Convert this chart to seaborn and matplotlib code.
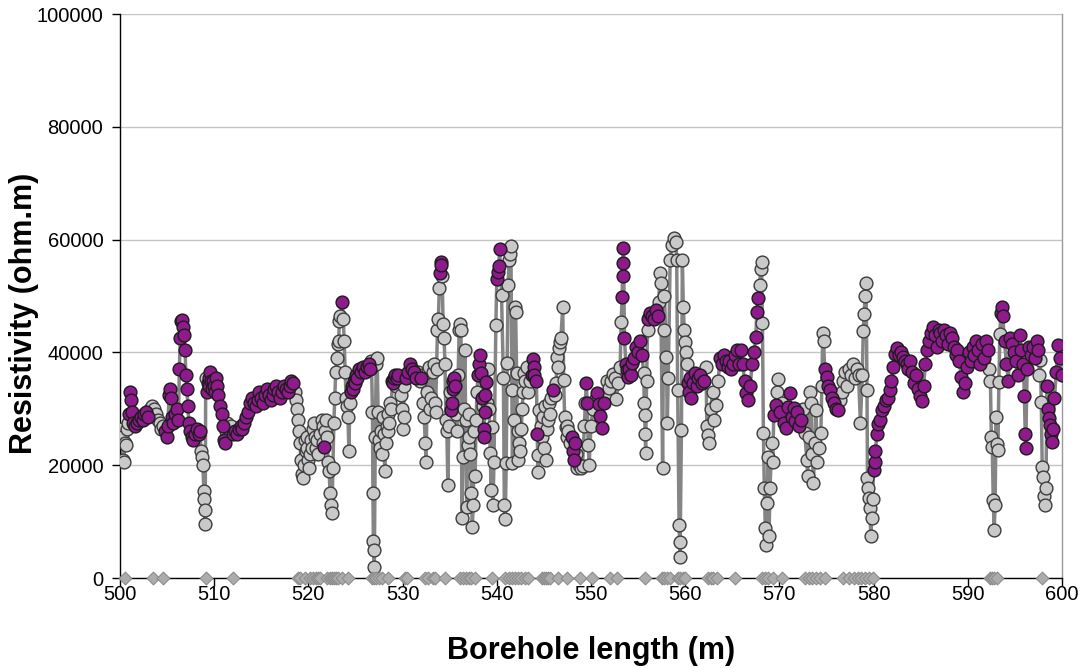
import matplotlib
matplotlib.use("Agg")
import matplotlib.pyplot as plt
import pandas as pd
import seaborn as sns

# Borehole length of each resistivity reading (m)
length_m = [
    500.1, 500.2, 500.3, 500.4, 500.5, 500.6, 500.7, 500.9, 501.0, 501.1,
    501.2, 501.3, 501.4, 501.6, 501.8, 502.0, 502.2, 502.4, 502.6, 502.8,
    503.0, 503.2, 503.4, 503.6, 503.8, 504.0, 504.2, 504.4, 504.6, 504.8,
    505.0, 505.1, 505.2, 505.3, 505.4, 505.5, 505.6, 505.8, 506.0, 506.2,
    506.3, 506.4, 506.5, 506.6, 506.7, 506.8, 506.9, 507.0, 507.1, 507.2,
    507.3, 507.4, 507.6, 507.8, 508.0, 508.2, 508.4, 508.5, 508.6, 508.7,
    508.8, 508.9, 508.95, 509.0, 509.05, 509.1, 509.2, 509.3, 509.4, 509.5,
    509.6, 509.7, 509.8, 509.9, 510.0, 510.1, 510.2, 510.3, 510.4, 510.6,
    510.8, 510.9, 511.0, 511.1, 511.2, 511.4, 511.6, 511.8, 512.0, 512.2,
    512.4, 512.6, 512.8, 513.0, 513.2, 513.4, 513.6, 513.8, 514.0, 514.2,
    514.4, 514.6, 514.8, 515.0, 515.2, 515.4, 515.6, 515.8, 516.0, 516.2,
    516.4, 516.6, 516.8, 517.0, 517.2, 517.4, 517.6, 517.8, 518.0, 518.2,
    518.4, 518.6, 518.7, 518.8, 518.9, 519.0, 519.1, 519.2, 519.3, 519.4,
    519.5, 519.6, 519.7, 519.8, 519.9, 520.0, 520.1, 520.2, 520.3, 520.4,
    520.5, 520.6, 520.7, 520.8, 520.9, 521.0, 521.2, 521.4, 521.5, 521.6,
    521.7, 521.8, 521.9, 522.0, 522.1, 522.2, 522.3, 522.4, 522.5, 522.6,
    522.7, 522.8, 522.9, 523.0, 523.1, 523.2, 523.3, 523.4, 523.6, 523.7,
    523.8, 523.9, 524.0, 524.1, 524.2, 524.3, 524.4, 524.5, 524.6, 524.7,
    524.8, 524.9, 525.0, 525.2, 525.4, 525.6, 525.8, 526.0, 526.2, 526.4,
    526.5, 526.6, 526.7, 526.8, 526.85, 526.9, 526.95, 527.0, 527.1, 527.2,
    527.3, 527.4, 527.5, 527.6, 527.7, 527.8, 527.9, 528.0, 528.1, 528.2,
    528.3, 528.4, 528.5, 528.6, 528.7, 528.8, 528.9, 529.0, 529.1, 529.2,
    529.3, 529.4, 529.5, 529.6, 529.8, 529.9, 530.0, 530.1, 530.2, 530.4,
    530.6, 530.8, 531.0, 531.2, 531.4, 531.6, 531.8, 532.0, 532.1, 532.2,
    532.3, 532.4, 532.5, 532.6, 532.7, 532.8, 532.9, 533.0, 533.2, 533.3,
    533.4, 533.5, 533.6, 533.7, 533.8, 533.9, 534.0, 534.05, 534.1, 534.2,
    534.3, 534.4, 534.5, 534.6, 534.7, 534.8, 534.9, 535.0, 535.1, 535.2,
    535.3, 535.4, 535.5, 535.6, 535.7, 535.8, 535.9, 536.0, 536.1, 536.2,
    536.3, 536.4, 536.5, 536.6, 536.7, 536.8, 536.9, 537.0, 537.1, 537.2,
    537.3, 537.4, 537.5, 537.6, 537.7, 537.8, 537.9, 538.0, 538.1, 538.2,
    538.3, 538.4, 538.5, 538.6, 538.65, 538.7, 538.8, 538.9, 539.0, 539.1,
    539.2, 539.3, 539.4, 539.5, 539.6, 539.7, 539.9, 540.0, 540.1, 540.2,
    540.3, 540.5, 540.7, 540.8, 540.9, 541.0, 541.1, 541.2, 541.3, 541.4,
    541.5, 541.6, 541.65, 541.8, 541.9, 542.0, 542.1, 542.2, 542.3, 542.4,
    542.5, 542.6, 542.7, 542.8, 542.9, 543.0, 543.2, 543.3, 543.5, 543.7,
    543.8, 543.9, 544.0, 544.2, 544.3, 544.35, 544.4, 544.5, 544.7, 544.8,
    544.9, 545.0, 545.1, 545.2, 545.3, 545.4, 545.5, 545.6, 545.8, 546.0,
    546.2, 546.3, 546.4, 546.5, 546.6, 546.7, 546.8, 547.0, 547.1, 547.2,
    547.3, 547.4, 547.5, 547.6, 547.8, 548.0, 548.1, 548.2, 548.3, 548.4,
    548.5, 548.7, 548.9, 549.1, 549.3, 549.4, 549.5, 549.6, 549.7, 549.8,
    550.0, 550.2, 550.4, 550.6, 550.8, 551.0, 551.2, 551.4, 551.5, 551.7,
    551.9, 552.1, 552.3, 552.5, 552.7, 552.9, 553.1, 553.2, 553.3, 553.35,
    553.4, 553.45, 553.55, 553.7, 553.8, 553.9, 554.0, 554.2, 554.4, 554.6,
    554.8, 555.0, 555.2, 555.4, 555.6, 555.65, 555.7, 555.75, 555.8, 555.9,
    556.0, 556.1, 556.2, 556.3, 556.5, 556.7, 556.9, 557.1, 557.2, 557.3,
    557.4, 557.6, 557.7, 557.8, 558.0, 558.1, 558.2, 558.4, 558.6, 558.8,
    559.0, 559.1, 559.2, 559.35, 559.4, 559.45, 559.6, 559.7, 559.8, 559.9,
    560.0, 560.1, 560.2, 560.3, 560.4, 560.5, 560.6, 560.8, 561.0, 561.2,
    561.4, 561.6, 561.8, 562.0, 562.2, 562.3, 562.4, 562.5, 562.7, 562.9,
    563.1, 563.3, 563.5, 563.7, 563.9, 564.1, 564.3, 564.5, 564.7, 564.9,
    565.1, 565.3, 565.5, 565.7, 565.9, 566.1, 566.3, 566.5, 566.7, 566.9,
    567.1, 567.3, 567.5, 567.6, 567.7, 567.9, 568.0, 568.1, 568.2, 568.3,
    568.4, 568.5, 568.6, 568.7, 568.8, 568.9, 569.0, 569.2, 569.3, 569.4,
    569.6, 569.7, 569.9, 570.1, 570.3, 570.5, 570.7, 570.9, 571.1, 571.3,
    571.5, 571.7, 571.9, 572.1, 572.3, 572.5, 572.7, 572.9, 573.0, 573.1,
    573.2, 573.4, 573.5, 573.6, 573.8, 573.9, 574.0, 574.2, 574.4, 574.5,
    574.6, 574.7, 574.8, 575.0, 575.2, 575.4, 575.6, 575.8, 576.0, 576.2,
    576.4, 576.6, 576.8, 577.0, 577.2, 577.4, 577.6, 577.8, 578.0, 578.2,
    578.4, 578.6, 578.8, 578.9, 579.0, 579.1, 579.2, 579.3, 579.35, 579.4,
    579.5, 579.6, 579.7, 579.8, 579.9, 580.0, 580.1, 580.2, 580.35, 580.5,
    580.7, 580.9, 581.1, 581.3, 581.5, 581.7, 581.9, 582.1, 582.3, 582.5,
    582.7, 582.9, 583.1, 583.3, 583.5, 583.7, 583.9, 584.1, 584.3, 584.5,
    584.7, 584.9, 585.1, 585.3, 585.5, 585.7, 585.9, 586.1, 586.3, 586.5,
    586.7, 586.9, 587.1, 587.3, 587.5, 587.7, 587.9, 588.1, 588.3, 588.5,
    588.7, 588.9, 589.1, 589.3, 589.5, 589.7, 589.9, 590.1, 590.3, 590.5,
    590.7, 590.9, 591.1, 591.3, 591.5, 591.7, 591.9, 592.1, 592.3, 592.4,
    592.5, 592.6, 592.7, 592.8, 592.9, 593.0, 593.1, 593.2, 593.3, 593.4,
    593.5, 593.6, 593.7, 593.9, 594.1, 594.3, 594.5, 594.7, 594.9, 595.1,
    595.3, 595.5, 595.7, 595.9, 596.0, 596.1, 596.15, 596.3, 596.5, 596.7,
    596.9, 597.1, 597.3, 597.5, 597.6, 597.7, 597.8, 597.9, 598.0, 598.1,
    598.2, 598.3, 598.4, 598.5, 598.6, 598.7, 598.8, 598.9, 599.0, 599.2,
    599.4, 599.6, 599.8, 599.95,
]

# Measured resistivity (ohm.m), same order as length_m
resistivity = [
    26500, 25000, 21000, 20500, 24000, 23500, 26500, 27500, 29000, 33000,
    31500, 29500, 27500, 27000, 27500, 28000, 28500, 28000, 29000, 29500,
    28500, 30000, 30500, 30000, 29000, 28000, 27500, 26500, 27000, 26000,
    25000, 27000, 32500, 33500, 32000, 28500, 27500, 29000, 30000, 28000,
    37000, 42500, 45500, 45800, 44500, 43000, 40500, 36000, 33500, 30500,
    27500, 26000, 25000, 24500, 25500, 26500, 25500, 26000, 22500, 21500,
    20000, 15500, 14000, 9500, 12000, 35500, 33000, 34500, 35500, 34000,
    36500, 35000, 33500, 35000, 34000, 33000, 35500, 34000, 32500, 30500,
    29000, 27000, 24500, 24000, 26000, 27500, 26500, 27000, 25500, 26000,
    25500, 26500, 27000, 26500, 27500, 28500, 29500, 31000, 32000, 31000,
    30500, 31500, 33000, 32000, 31000, 32500, 33500, 32500, 31500, 32500,
    33500, 34000, 33000, 32000, 33000, 34000, 33500, 33000, 34000, 35000,
    34500, 33000, 31500, 30000, 28000, 26000, 24000, 21000, 18500, 17800,
    20000, 24500, 22500, 25000, 23000, 21000, 19500, 22000, 24500, 23000,
    26500, 27500, 25000, 23000, 24500, 22000, 25500, 28000, 27000, 24000,
    23300, 26000, 28000, 25000, 20500, 19000, 15000, 13000, 11500, 19500,
    27500, 32000, 36500, 39000, 41500, 42000, 45500, 46500, 49000, 46000,
    42000, 36500, 32000, 30500, 28500, 22500, 31000, 33000, 34000, 33500,
    35000, 34500, 36000, 35500, 37000, 36500, 37500, 36500, 37500, 38000,
    37000, 38500, 37500, 29500, 15000, 6500, 5000, 2000, 25000, 38000,
    39000, 29500, 24500, 23000, 26000, 22000, 28500, 25500, 19000, 24000,
    27000, 26000, 29000, 27500, 31000, 30000, 35000, 34500, 35500, 36000,
    34000, 35500, 36000, 35500, 32500, 30000, 26500, 28500, 34000, 35500,
    36500, 38000, 37000, 36500, 35500, 36500, 35000, 35500, 36000, 31000,
    28500, 24000, 20500, 33000, 36500, 37500, 30000, 32000, 36500, 38000,
    31000, 29500, 37000, 44000, 46000, 51500, 54000, 56000, 55500, 53500,
    45000, 42500, 38000, 28000, 26000, 16500, 27000, 33000, 29800, 31000,
    33500, 35000, 35500, 34000, 29000, 26000, 36000, 44000, 45000, 44000,
    10600, 21500, 30000, 40400, 28000, 12600, 23500, 29000, 25000, 22000,
    15000, 9000, 12900, 26000, 18000, 28000, 33000, 36000, 38000, 39500,
    36300, 32000, 30500, 26500, 25000, 29400, 32500, 34800, 31000, 37000,
    30000, 22100, 15600, 26800, 12900, 20500, 44800, 53000, 54200, 55300,
    58300, 50200, 35500, 12900, 10400, 20400, 38100, 52000, 56400, 57500,
    58900, 33300, 20400, 28000, 48000, 47200, 36300, 26000, 21000, 24000,
    22500, 26500, 30000, 33000, 36300, 35000, 37500, 33000, 35000, 36000,
    38800, 37500, 36000, 34900, 25500, 18800, 21800, 29800, 27000, 25000,
    28500, 23000, 30500, 20900, 26500, 28000, 31000, 29000, 32000, 33300,
    32500, 34500, 39200, 37500, 40800, 41800, 42500, 48000, 35100, 28500,
    26800, 25000, 27000, 26000, 24000, 25000, 22500, 21000, 24000, 22000,
    19500, 20000, 19500, 19800, 27000, 31000, 34500, 31100, 23500, 20000,
    27000, 30000, 31500, 32800, 30800, 28800, 26600, 31000, 32500, 34900,
    33600, 35000, 36200, 35500, 31800, 34500, 37500, 45400, 49800, 53500,
    55800, 58500, 42600, 38000, 36900, 35600, 37000, 36000, 38100, 39000,
    41000, 40000, 42000, 39500, 36300, 31000, 28900, 25500, 22100, 35000,
    44000, 46000, 46300, 47000, 46500, 46000, 47500, 46500, 49000, 54000,
    52300, 19500, 44000, 50000, 39200, 27500, 35500, 56400, 59100, 60300,
    59500, 56400, 33300, 9400, 6300, 3800, 26200, 56400, 48000, 44000,
    41800, 40000, 38000, 34500, 33000, 35500, 32000, 34500, 36300, 34000,
    35500, 36000, 34500, 35000, 37500, 27000, 25400, 24000, 30000, 33000,
    28000, 30600, 35000, 39000, 38000, 39500, 38500, 37500, 38500, 37000,
    38000, 39500, 40400, 38000, 40400, 38000, 35000, 32800, 31500, 34000,
    38000, 40000, 42800, 47200, 49600, 52000, 54800, 56000, 45200, 25700,
    16000, 8900, 5900, 13300, 21500, 7400, 16000, 24000, 20600, 28900,
    30600, 33000, 35300, 29500, 31000, 27500, 26600, 30400, 32800, 28500,
    30200, 27800, 29500, 27000, 28000, 30000, 25700, 21000, 18000, 25000,
    33000, 31000, 22000, 16800, 24000, 29800, 20500, 23000, 25700, 34000,
    43500, 42000, 37000, 35600, 34000, 33300, 32000, 31000, 30000, 29800,
    31500, 33000, 35000, 36500, 34000, 37000, 36000, 38000, 35500, 37000,
    36000, 27500, 36000, 43800, 46800, 50000, 52300, 33300, 17700, 16000,
    14200, 12400, 7400, 10700, 14000, 19200, 20500, 22600, 25500, 27300,
    28000, 29700, 30500, 31500, 32000, 33300, 35000, 37400, 39800, 40700,
    39500, 40000, 39200, 38500, 38000, 37000, 38500, 36500, 34600, 36000,
    33500, 32300, 31400, 34000, 38000, 40500, 42000, 43500, 44500, 43000,
    41000, 44000, 43500, 42000, 44000, 43000, 41500, 43500, 42500, 41000,
    39500, 40500, 38500, 35600, 33000, 34500, 37500, 40000, 38500, 41000,
    39500, 42000, 40500, 38000, 41500, 39000, 42000, 40500, 37000, 35000,
    25000, 23200, 13900, 8500, 13000, 28600, 23800, 22700, 34700, 43200,
    47000, 48000, 46500, 42000, 38000, 35000, 42500, 41500, 40000, 38500,
    36000, 43000, 40500, 38000, 32300, 25500, 23000, 37000, 41000, 39500,
    41000, 39000, 42000, 40500, 36000, 38600, 31200, 19700, 17900, 14600,
    13000, 16000, 34100, 30000, 28300, 27100, 25600, 24100, 26500, 32000,
    36600, 41400, 39000, 36000,
]

# 1 = reading belongs to the highlighted (purple) group, 0 = other readings
highlight_codes = (
    "0000000011 1111111111 1000000001 1111111111 1111111111 "
    "1111111100 0000001111 1111111111 1111000011 1111111111 "
    "1111111111 1111111111 1000000000 0000000000 0000000000 "
    "1000000000 0000000010 0000000111 1111111111 1000000000 "
    "0000000000 0000001111 0110000001 1111100100 0000000000 "
    "0000001110 0000000011 1111000000 0000000000 0000000111 "
    "1101111100 0000000111 1000000000 0000000000 0000000001 "
    "1111100000 0000000001 0000000000 0000011110 0000001100 "
    "0001111100 0000000011 1111111111 1111000000 0101111100 "
    "0000000000 0000000000 0001111111 1111000000 0001111111 "
    "1111111111 1111100000 0000000001 1001011111 1111100000 "
    "0000000000 0011111111 0000000000 0000000000 0000011111 "
    "1111111111 1111111111 1111111111 1111111111 1111111111 "
    "1111111100 0000000000 1111111111 1111111111 1111000000 "
    "0011111111 1111"
)
highlight = [int(c) for c in highlight_codes.replace(" ", "")]

# Lengths flagged on the zero line
zero_marks_m = [
    500.5, 503.5, 504.6, 509.1, 512.0,
    518.9, 519.1, 519.6, 520.2, 520.5, 520.8, 521.0, 521.2,
    522.0, 522.3, 522.5, 522.7, 522.9, 523.1, 523.6, 524.2,
    526.8, 527.0, 527.2, 527.5, 527.8, 528.5, 530.3, 530.5,
    532.4, 532.7, 533.2, 533.4, 534.5,
    536.1, 536.4, 536.7, 537.0, 537.3, 537.7, 539.5,
    540.9, 541.3, 541.6, 541.9, 542.2, 542.6, 543.0, 543.3,
    544.8, 545.0, 545.2, 545.4, 545.6, 546.5, 547.5, 548.8,
    550.1, 552.0, 552.8, 555.7, 557.5, 557.8, 558.1, 558.4,
    559.2, 559.5, 559.8, 560.0, 562.4, 562.7, 563.0, 563.4, 565.3,
    568.2, 568.5, 568.8, 569.3, 570.3,
    572.7, 573.1, 573.5, 573.9, 574.3, 574.8,
    576.8, 577.4, 577.9, 578.3, 578.7, 579.1, 579.5, 579.9,
    592.4, 592.6, 592.8, 593.1, 597.9,
]

x_ticks = [500, 510, 520, 530, 540, 550, 560, 570, 580, 590, 600]
y_ticks = [0, 20000, 40000, 60000, 80000, 100000]

assert len(length_m) == len(resistivity) == len(highlight)

readings = pd.DataFrame({"length": length_m, "res": resistivity, "hl": highlight})
zero_line = pd.DataFrame({"length": zero_marks_m, "res": [0] * len(zero_marks_m)})

sns.set_theme(style="white")
plt.rcParams["font.family"] = ["Liberation Sans", "DejaVu Sans"]
plt.rcParams["text.color"] = "black"
plt.rcParams["axes.labelcolor"] = "black"
plt.rcParams["xtick.color"] = "black"
plt.rcParams["ytick.color"] = "black"

fig = plt.figure(figsize=(10.87, 6.68), dpi=100)
ax = fig.add_axes([120 / 1087, 1 - 578 / 668, 942 / 1087, 564 / 668])

sns.lineplot(data=readings, x="length", y="res", sort=False, estimator=None,
             color="#858585", linewidth=2.5, ax=ax, zorder=2)
sns.scatterplot(data=readings[readings.hl == 0], x="length", y="res", s=85,
                color="#c9c9c9", edgecolor="#3c3c3c", linewidth=1.0,
                ax=ax, zorder=3)
sns.scatterplot(data=readings[readings.hl == 1], x="length", y="res", s=85,
                color="#8e1a8c", edgecolor="#1c1c1c", linewidth=1.0,
                ax=ax, zorder=4)
sns.scatterplot(data=zero_line, x="length", y="res", marker="D", s=42,
                color="#acacac", edgecolor="#8c8c8c", linewidth=0.8,
                ax=ax, zorder=5, clip_on=False)

ax.set_xlim(500, 600)
ax.set_ylim(0, 100000)
ax.set_xticks(x_ticks)
ax.set_yticks(y_ticks)
ax.set_xticklabels([str(t) for t in x_ticks])
ax.set_yticklabels([str(t) for t in y_ticks])

ax.yaxis.grid(True, color="#c4c4c4", linewidth=1.0)
ax.xaxis.grid(False)
ax.set_axisbelow(True)

for side in ("left", "bottom"):
    ax.spines[side].set_color("black")
    ax.spines[side].set_linewidth(1.0)
ax.spines["right"].set_color("#9a9a9a")
ax.spines["right"].set_linewidth(1.0)
ax.spines["top"].set_visible(False)

ax.tick_params(axis="y", left=True, direction="out", length=6, width=1,
               color="black", labelcolor="black", labelsize=14.5, pad=6)
ax.tick_params(axis="x", bottom=True, direction="out", length=6, width=1,
               color="black", labelcolor="black", labelsize=14.5, pad=-1)

ax.set_xlabel("Borehole length (m)", fontsize=22, fontweight="bold", color="black")
ax.set_ylabel("Resistivity (ohm.m)", fontsize=22, fontweight="bold", color="black")
ax.xaxis.set_label_coords(0.5, -0.103)
ax.yaxis.set_label_coords(-0.086, 0.47)

fig.savefig("out.png", dpi=100)
